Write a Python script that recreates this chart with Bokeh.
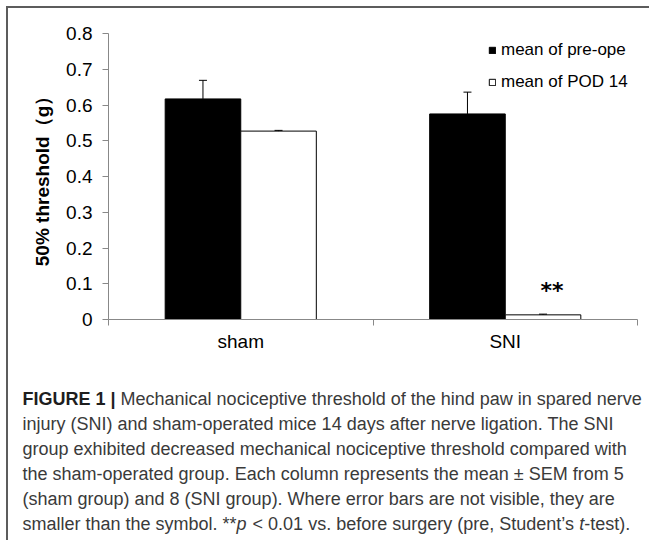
from bokeh.plotting import figure
from bokeh.layouts import column
from bokeh.models import (Range1d, FixedTicker, ColumnDataSource, Whisker, TeeHead,
                          Legend, LegendItem)
from bokeh.core.properties import value
from bokeh.embed import file_html
from bokeh.resources import INLINE

# ---------------- data ----------------
categories = ["sham", "SNI"]
series_names = ["mean of pre-ope", "mean of POD 14"]
pre_ope = [0.617, 0.575]
pre_ope_sem = [0.052, 0.061]
pod14 = [0.527, 0.013]
pod14_sem = [0.002, 0.002]
significance = ["", "**"]
y_ticks = [0, 0.1, 0.2, 0.3, 0.4, 0.5, 0.6, 0.7, 0.8]
y_tick_labels = ["0", "0.1", "0.2", "0.3", "0.4", "0.5", "0.6", "0.7", "0.8"]
y_label = "50% threshold（g）"
caption_lines = [
    [("FIGURE 1 |", "bold"), (" Mechanical nociceptive threshold of the hind paw in spared nerve", "normal")],
    [("injury (SNI) and sham-operated mice 14 days after nerve ligation. The SNI", "normal")],
    [("group exhibited decreased mechanical nociceptive threshold compared with", "normal")],
    [("the sham-operated group. Each column represents the mean \u00b1 SEM from 5", "normal")],
    [("(sham group) and 8 (SNI group). Where error bars are not visible, they are", "normal")],
    [("smaller than the symbol. **", "normal"), ("p", "italic"),
     (" < 0.01 vs. before surgery (pre, Student\u2019s ", "normal"), ("t", "italic"),
     ("-test).", "normal")],
]

# ------------- text metrics (Arial / Liberation Sans advance widths) -------------
W = dict(zip("abcdefghijklmnopqrstuvwxyz",
             [556, 556, 500, 556, 556, 278, 556, 556, 222, 222, 500, 222, 833,
              556, 556, 556, 556, 333, 500, 278, 556, 500, 722, 500, 500, 500]))
W.update(zip("ABCDEFGHIJKLMNOPQRSTUVWXYZ",
             [667, 667, 722, 722, 667, 611, 778, 722, 278, 500, 667, 556, 833,
              722, 778, 667, 778, 722, 667, 611, 722, 667, 944, 667, 667, 611]))
W.update({c: 556 for c in "0123456789"})
W.update({" ": 278, "(": 333, ")": 333, "*": 389, ",": 278, "-": 333, ".": 278,
          "<": 584, "|": 260, "\u00b1": 549, "\u2019": 222, "'": 191})
WB = dict(W)
WB.update({"|": 280, "F": 611, "I": 278, "G": 778, "U": 722, "R": 722, "E": 667})


def text_width(s, size, bold=False):
    table = WB if bold else W
    return sum(table.get(ch, 556) for ch in s) * size / 1000.0


FONT = "Liberation Sans"
WIDTH = 641
H_CHART = 360
H_CAP = 172

# ------------- chart figure -------------
FRAME_LEFT, FRAME_TOP, FRAME_BOTTOM = 100, 25, 311
p = figure(width=WIDTH, height=H_CHART, x_range=Range1d(0, 2), y_range=Range1d(0, 0.8),
           output_backend="svg", toolbar_location=None,
           min_border_left=FRAME_LEFT, min_border_right=12,
           min_border_top=FRAME_TOP, min_border_bottom=H_CHART - FRAME_BOTTOM)
p.frame_align = False
p.xgrid.visible = False
p.ygrid.visible = False
p.outline_line_color = None

bar_w = 1.0 / 3.5
centers = [i + 0.5 for i in range(len(categories))]
x_pre = [c - bar_w / 2 for c in centers]
x_pod = [c + bar_w / 2 for c in centers]

src_pre = ColumnDataSource(dict(x=x_pre, top=pre_ope,
                                upper=[v + e for v, e in zip(pre_ope, pre_ope_sem)]))
src_pod = ColumnDataSource(dict(x=x_pod, top=pod14,
                                upper=[v + e for v, e in zip(pod14, pod14_sem)],
                                sig=significance))

r_pre = p.vbar(x="x", top="top", bottom=0, width=bar_w, source=src_pre,
               fill_color="black", line_color="black", line_width=1)
r_pod = p.vbar(x="x", top="top", bottom=0, width=bar_w, source=src_pod,
               fill_color="white", line_color="black", line_width=1)

for src in (src_pre, src_pod):
    w = Whisker(source=src, base="x", lower="top", upper="upper", dimension="height",
                line_color="black", line_width=1, level="overlay",
                upper_head=TeeHead(size=8, line_color="black", line_width=1),
                lower_head=None)
    p.add_layout(w)

p.text(x="x", y="upper", text="sig", source=src_pod, x_offset=9, y_offset=-24,
       text_align="center", text_baseline="alphabetic",
       text_font=value("DejaVu Sans"), text_font_style="bold",
       text_font_size="22px", text_color="black")

legend = Legend(items=[LegendItem(label=series_names[0], renderers=[r_pre]),
                       LegendItem(label=series_names[1], renderers=[r_pod])],
                location=(380, 227), glyph_width=8, glyph_height=8,
                label_standoff=5, spacing=12, padding=0, margin=0,
                label_height=20, border_line_color=None, background_fill_alpha=0,
                label_text_font_size="17px", label_text_font=FONT,
                label_text_color="black")
p.add_layout(legend)

xa = p.xaxis[0]
xa.ticker = FixedTicker(ticks=centers, minor_ticks=[0, 1, 2])
xa.major_label_overrides = {c: name for c, name in zip(centers, categories)}
xa.major_tick_out = 0
xa.major_tick_in = 0
xa.minor_tick_out = 6
xa.minor_tick_in = 0
xa.axis_line_color = "#888888"
xa.minor_tick_line_color = "#888888"
xa.major_label_standoff = 5
xa.major_label_text_font = FONT
xa.major_label_text_font_size = "19px"
xa.major_label_text_color = "black"

ya = p.yaxis[0]
ya.ticker = FixedTicker(ticks=y_ticks, minor_ticks=[])
ya.major_label_overrides = {t: l for t, l in zip(y_ticks, y_tick_labels)}
ya.major_tick_out = 6
ya.major_tick_in = 0
ya.axis_line_color = "#888888"
ya.major_tick_line_color = "#888888"
ya.major_label_standoff = 10
ya.major_label_text_font = FONT
ya.major_label_text_font_size = "19px"
ya.major_label_text_color = "black"
ya.axis_label = y_label
ya.axis_label_text_font = FONT
ya.axis_label_text_font_style = "bold"
ya.axis_label_text_font_size = "19px"
ya.axis_label_text_color = "black"
ya.axis_label_standoff = 10

# ------------- caption figure (pixel coordinates, y downward) -------------
cap = figure(width=WIDTH, height=H_CAP, x_range=Range1d(0, WIDTH), y_range=Range1d(H_CAP, 0),
             output_backend="svg", toolbar_location=None, min_border=0,
             x_axis_location=None, y_axis_location=None)
cap.frame_align = False
cap.xgrid.visible = False
cap.ygrid.visible = False
cap.outline_line_color = None

CAP_SIZE = 18
SPACE = text_width(" ", CAP_SIZE)
groups = {"normal": ([], [], []), "bold": ([], [], []), "italic": ([], [], [])}
for k, segs in enumerate(caption_lines):
    y = 30 + 25 * k
    x = 14
    for text, style in segs:
        bold = style == "bold"
        # leading/trailing blanks are collapsed in SVG text: advance explicitly
        lead = len(text) - len(text.lstrip(" "))
        x += lead * SPACE * (1.2 if "<" in text else 1.0)
        body = text.strip(" ")
        gx, gy, gt = groups[style]
        gx.append(x)
        gy.append(y)
        gt.append(body)
        x += text_width(body, CAP_SIZE, bold)
        trail = len(text) - len(text.rstrip(" "))
        x += trail * SPACE

for style, (gx, gy, gt) in groups.items():
    cap.text(x=gx, y=gy, text=gt, text_font=value(FONT), text_font_size=f"{CAP_SIZE}px",
             text_font_style=style, text_align="left", text_baseline="alphabetic",
             text_color="#1e1e1e" if style == "bold" else "#3a3a3a")

layout = column(p, cap, spacing=0,
                styles={"margin-left": "6px", "margin-top": "6px",
                        "border-left": "2px solid #5c5c5c",
                        "border-top": "2px solid #5c5c5c"})

open("out.html", "w").write(file_html(layout, INLINE))
